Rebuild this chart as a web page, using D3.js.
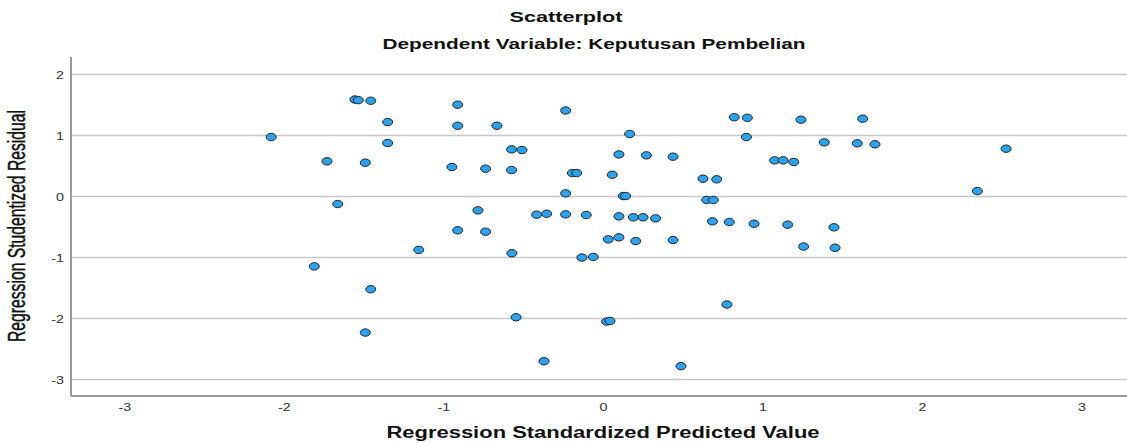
<!DOCTYPE html>
<html><head><meta charset="utf-8">
<script src="https://cdn.jsdelivr.net/npm/d3@7"></script>
<style>
html,body{margin:0;padding:0;background:#fff;}
svg{display:block;font-family:"Liberation Sans",Arial,sans-serif;}
</style></head>
<body>
<svg id="c" width="1127" height="443"></svg>
<script>
const predicted = [-2.08,-1.555,-1.534,-1.456,-1.35,-1.35,-1.73,-1.49,-1.663,-1.81,-1.456,-1.49,-1.155,-0.571,-0.132,-0.061,-0.545,0.023,0.044,0.777,-0.37,0.489,1.258,1.455,-0.911,-0.911,-0.665,-0.234,0.167,0.823,0.905,0.899,-0.573,-0.508,0.10,0.272,0.439,1.076,1.129,1.196,-0.947,-0.736,-0.573,-0.192,-0.165,0.058,0.627,0.713,-0.234,0.127,0.142,0.65,0.692,-0.784,-0.416,-0.353,-0.234,-0.105,0.10,0.19,0.251,0.33,0.686,0.792,0.947,-0.911,-0.736,0.033,0.10,0.205,0.439,1.241,1.628,1.387,1.594,1.705,2.527,2.347,1.158,1.448];
const residual = [0.975,1.59,1.58,1.57,1.22,0.877,0.577,0.554,-0.123,-1.145,-1.52,-2.23,-0.875,-0.93,-1.0,-0.99,-1.98,-2.05,-2.04,-1.77,-2.70,-2.78,-0.82,-0.84,1.505,1.16,1.16,1.41,1.025,1.30,1.29,0.975,0.773,0.762,0.69,0.675,0.653,0.593,0.593,0.566,0.484,0.456,0.434,0.385,0.385,0.357,0.292,0.282,0.052,0.008,0.008,-0.057,-0.057,-0.227,-0.298,-0.282,-0.292,-0.303,-0.325,-0.341,-0.341,-0.358,-0.407,-0.418,-0.446,-0.554,-0.577,-0.702,-0.669,-0.73,-0.713,1.26,1.276,0.888,0.872,0.856,0.784,0.09,-0.462,-0.505];
const xTicks = [-3,-2,-1,0,1,2,3];
const yTicks = [-3,-2,-1,0,1,2];
const title = "Scatterplot";
const subtitle = "Dependent Variable: Keputusan Pembelian";
const xTitle = "Regression Standardized Predicted Value";
const yTitle = "Regression Studentized Residual";

const svg = d3.select("#c");
const L = 71, R = 1127, T = 57, B = 396;
const x = d3.scaleLinear().domain([-3.335, 3.285]).range([L, R]);
const y = d3.scaleLinear().domain([-3.27, 2.287]).range([B, T]);
const fmt = d => String(d);

// grid
svg.append("g").selectAll("line").data(yTicks).join("line")
  .attr("x1", L).attr("x2", R).attr("y1", d => y(d)).attr("y2", d => y(d))
  .attr("stroke", "#c8c8c8").attr("stroke-width", 1.5);

// axes
const gx = svg.append("g").attr("transform", `translate(0,${B})`)
  .call(d3.axisBottom(x).tickValues(xTicks).tickSize(0).tickPadding(0).tickFormat(fmt));
gx.select(".domain").remove();
gx.selectAll(".tick text").attr("y", 15).attr("dy", 0).attr("font-size", 11).attr("fill", "#333")
  .attr("font-family", "Liberation Sans, Arial, sans-serif")
  .style("transform", "scaleX(1.3)");

const gy = svg.append("g").attr("transform", `translate(${L},0)`)
  .call(d3.axisLeft(y).tickValues(yTicks).tickSize(0).tickPadding(0).tickFormat(fmt));
gy.select(".domain").remove();
gy.selectAll(".tick text").attr("x", -5.5).attr("dy", "0.35em").attr("font-size", 11).attr("fill", "#333")
  .attr("font-family", "Liberation Sans, Arial, sans-serif")
  .style("transform", "scaleX(1.3)");

svg.append("line").attr("x1", L).attr("x2", L).attr("y1", T).attr("y2", B)
  .attr("stroke", "#9a9a9a").attr("stroke-width", 2);
svg.append("line").attr("x1", L).attr("x2", R).attr("y1", B).attr("y2", B)
  .attr("stroke", "#9a9a9a").attr("stroke-width", 2);

// points
svg.append("g").selectAll("ellipse").data(predicted.map((p, i) => [p, residual[i]])).join("ellipse")
  .attr("cx", d => x(d[0])).attr("cy", d => y(d[1]))
  .attr("rx", 5).attr("ry", 3.7)
  .attr("fill", "#2ba2ef").attr("stroke", "#222").attr("stroke-width", 1);

// titles
svg.append("text").attr("x", 566).attr("y", 22).attr("text-anchor", "middle")
  .attr("font-size", 15).attr("font-weight", "bold").attr("fill", "#111")
  .attr("textLength", 113).attr("lengthAdjust", "spacingAndGlyphs").text(title);
svg.append("text").attr("x", 594).attr("y", 49).attr("text-anchor", "middle")
  .attr("font-size", 15).attr("font-weight", "bold").attr("fill", "#111")
  .attr("textLength", 423).attr("lengthAdjust", "spacingAndGlyphs").text(subtitle);
svg.append("text").attr("x", 603).attr("y", 438).attr("text-anchor", "middle")
  .attr("font-size", 16).attr("font-weight", "bold").attr("fill", "#111")
  .attr("textLength", 433).attr("lengthAdjust", "spacingAndGlyphs").text(xTitle);
svg.append("text").attr("transform", "translate(25,226) scale(1.5,1) rotate(-90)")
  .attr("text-anchor", "middle")
  .attr("font-size", 15.5).attr("fill", "#111").attr("stroke", "#111").attr("stroke-width", 0.3)
  .attr("textLength", 232).attr("lengthAdjust", "spacingAndGlyphs").text(yTitle);
</script>
</body></html>
